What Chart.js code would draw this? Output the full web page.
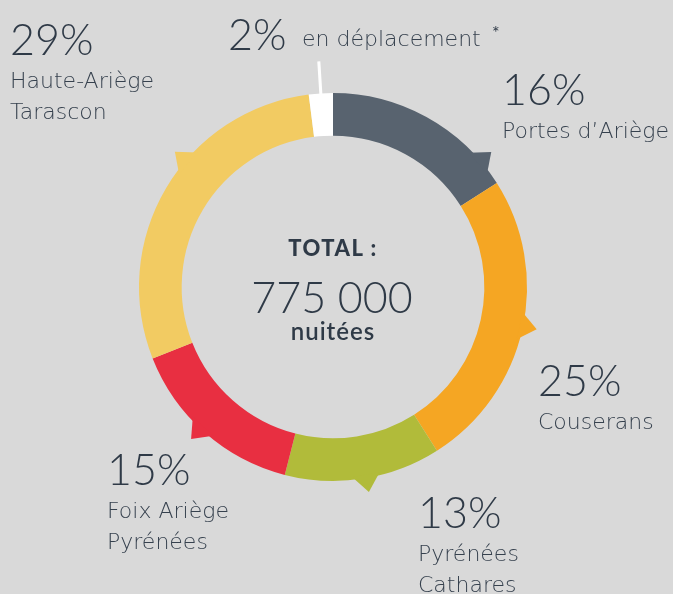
<!DOCTYPE html>
<html>
<head>
<meta charset="utf-8">
<script src="https://cdn.jsdelivr.net/npm/chart.js@4"></script>
<style>
  html, body { margin: 0; padding: 0; background: #d9d9d9; }
  #wrap { position: relative; width: 673px; height: 594px; overflow: hidden; }
  #wrap canvas { position: absolute; left: 0; top: 0; }
  .t { position: absolute; white-space: nowrap; font-family: Lato, sans-serif; color: #2f3a47; line-height: 1.2; }
  .lbl { font-family: "DejaVu Sans", sans-serif; color: #36414e; }
</style>
</head>
<body>
<div id="wrap">
  <canvas id="tourismChart" width="673" height="594"></canvas>
</div>
<script>
// data
const categories = [
    ['Portes d’Ariège'],
    ['Couserans'],
    ['Pyrénées', 'Cathares'],
    ['Foix Ariège', 'Pyrénées'],
    ['Haute-Ariège', 'Tarascon'],
    ['en déplacement']
];
const shares = [16, 25, 13, 15, 29, 2];
const totalLabel = 'TOTAL :';
const totalValue = '775 000';
const totalUnit = 'nuitées';

const colors = ['#58636f', '#f5a623', '#b1bb3a', '#e82f41', '#f2cb62', '#ffffff'];

// where each callout sits: x of text, baseline of the percent line
const labelPos = [
    { x: 502, y: 105 },
    { x: 538, y: 396 },
    { x: 418, y: 528 },
    { x: 107, y: 485 },
    { x: 10, y: 55 },
    { x: 228, y: 50 }
];

const wrap = document.getElementById('wrap');

function addText(str, x, baseline, size, weight, align, cls)
{
    const d = document.createElement('div');
    d.className = 't' + (cls ? ' ' + cls : '');
    d.textContent = str;
    d.style.fontSize = size + 'px';
    d.style.fontWeight = weight;
    const asc = cls ? 0.928 : 0.987;
    d.style.top = (baseline - asc * size - (cls ? 0.1 * size : 0)) + 'px';
    if (cls) d.style.lineHeight = '1.364';
    if (align === 'center')
    {
        d.style.left = (x - 200) + 'px';
        d.style.width = '400px';
        d.style.textAlign = 'center';
    }
    else
    {
        d.style.left = x + 'px';
    }
    wrap.appendChild(d);
    return d;
}

categories.forEach((lines, i) =>
{
    const p = labelPos[i];
    addText(shares[i] + '%', p.x, p.y, 43, 300);
    if (i === 5)
    {
        // inline label next to the small share
        addText(lines[0], 302, 47, 22, 200, null, 'lbl');
        addText('*', 492, 40, 18, 400);
        return;
    }
    lines.forEach((line, k) =>
    {
        addText(line, p.x, p.y + 34 + k * 31, 22, 200, null, 'lbl');
    });
});

const tl = addText(totalLabel, 333, 257, 22, 900, 'center');
tl.style.letterSpacing = '1.5px';
addText(totalValue, 332, 313, 43, 300, 'center');
const tu = addText(totalUnit, 333, 341, 24, 600, 'center');
tu.style.letterSpacing = '1px';

// little triangular pointers on the outer edge of the ring
const pointerPlugin = {
    id: 'pointers',
    afterDatasetsDraw(chart, args, opts)
    {
        const ctx = chart.ctx;
        const arcs = chart.getDatasetMeta(0).data;
        ctx.save();
        arcs.forEach((arc, i) =>
        {
            const p = arc.getProps(['x', 'y', 'startAngle', 'endAngle', 'outerRadius'], true);
            const f = opts.spots[i];
            if (f == null)
            {
                // white tick above the tiny slice
                const a = (p.startAngle + p.endAngle) / 2;
                ctx.strokeStyle = '#ffffff';
                ctx.lineWidth = 3;
                ctx.beginPath();
                ctx.moveTo(p.x + Math.cos(a) * (p.outerRadius - 2), p.y + Math.sin(a) * (p.outerRadius - 2));
                ctx.lineTo(p.x + Math.cos(a) * (p.outerRadius + 32), p.y + Math.sin(a) * (p.outerRadius + 32));
                ctx.stroke();
                return;
            }
            const a = p.startAngle + f * (p.endAngle - p.startAngle);
            const half = 4.2 * Math.PI / 180;
            const rIn = p.outerRadius - 3;
            const rOut = p.outerRadius + 14;
            ctx.fillStyle = colors[i];
            ctx.beginPath();
            ctx.moveTo(p.x + Math.cos(a - half) * rIn, p.y + Math.sin(a - half) * rIn);
            ctx.lineTo(p.x + Math.cos(a) * rOut, p.y + Math.sin(a) * rOut);
            ctx.lineTo(p.x + Math.cos(a + half) * rIn, p.y + Math.sin(a + half) * rIn);
            ctx.closePath();
            ctx.fill();
        });
        ctx.restore();
    }
};

const ctx = document.getElementById('tourismChart');

new Chart(ctx,
{
    type: 'doughnut',
    data:
    {
        labels: categories.map(l => l.join(' ')),
        datasets: [
            {
                data: shares,
                backgroundColor: colors,
                borderWidth: 0,
                hoverOffset: 0,
                offset: 0
            }
        ]
    },
    options:
    {
        responsive: false,
        animation: false,
        cutout: '78%',
        layout:
        {
            padding: { left: 139, right: 146, top: 93, bottom: 113 }
        },
        plugins:
        {
            legend: { display: false },
            tooltip: { enabled: false },
            pointers: { spots: [0.86, 0.49, 0.48, 0.53, 0.595, null] }
        }
    },
    plugins: [pointerPlugin]
});
</script>
</body>
</html>
